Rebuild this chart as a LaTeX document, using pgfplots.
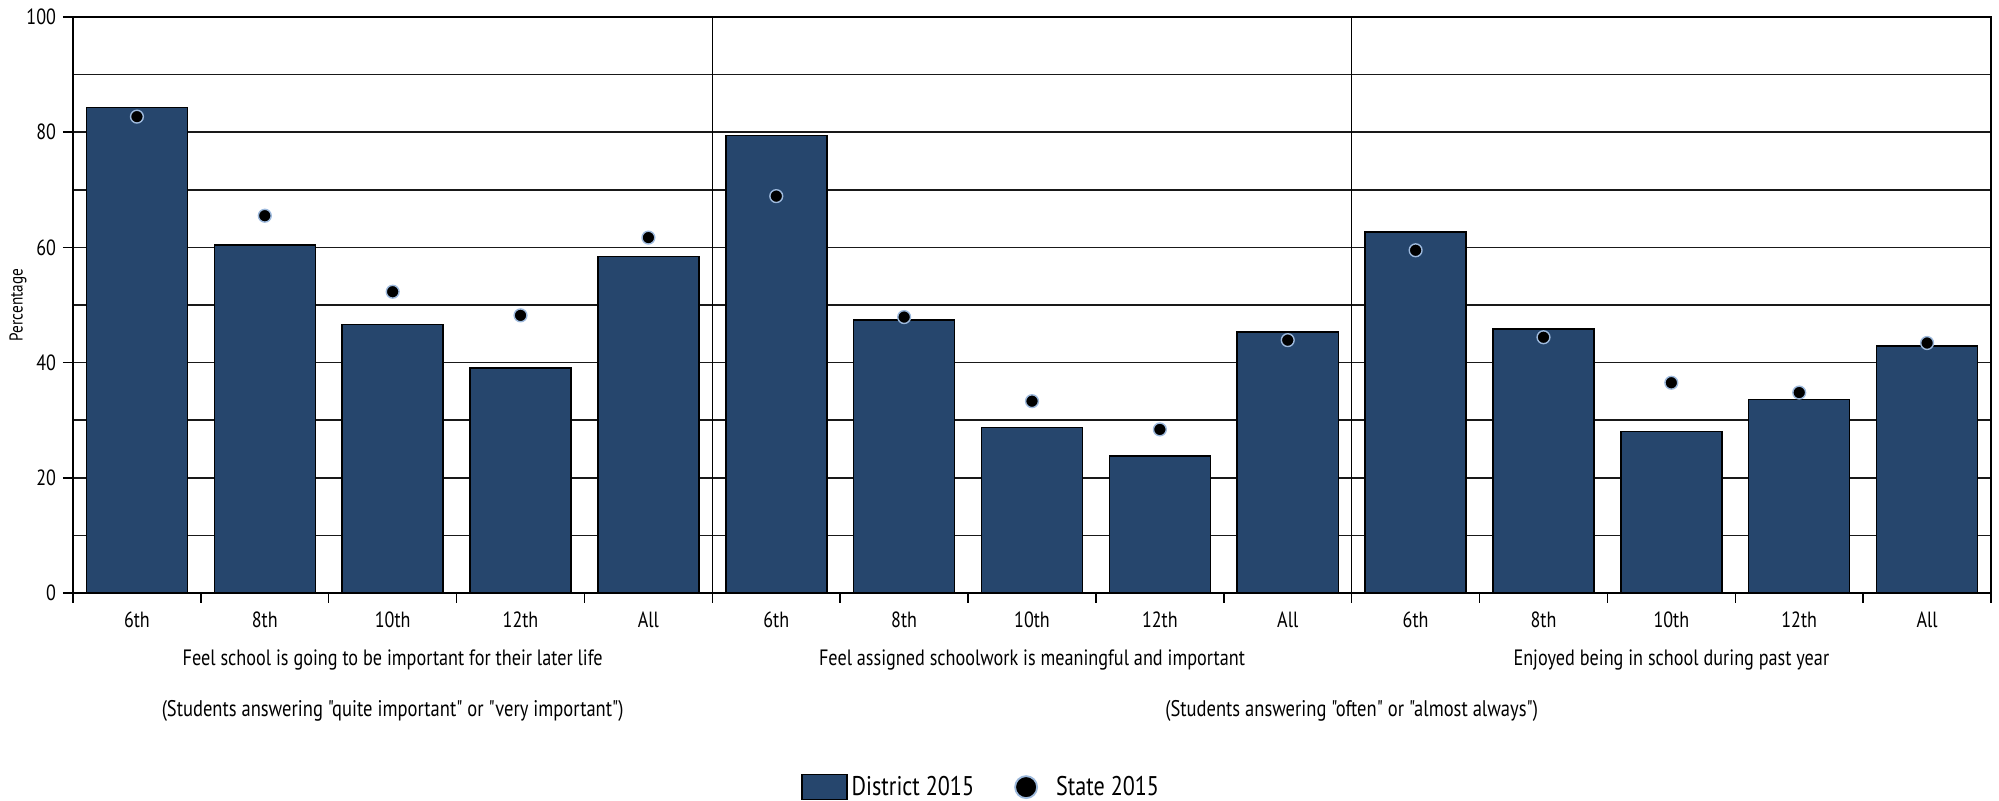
\documentclass[border=0pt]{standalone}
\usepackage{fontspec}
\setmainfont{PT Sans}[FakeStretch=0.82, Ligatures=TeXOff]
\usepackage{pgfplots}
\usepackage{pgfplotstable}
\pgfplotsset{compat=1.18}
\definecolor{barblue}{HTML}{26466D}
\definecolor{dotedge}{HTML}{9DB9DC}

\pgfplotstableread{
x district state
0 84.3 82.7
1 60.4 65.5
2 46.6 52.3
3 39.1 48.2
4 58.4 61.7
5 79.4 68.9
6 47.4 47.9
7 28.7 33.3
8 23.8 28.4
9 45.3 43.9
10 62.7 59.5
11 45.8 44.4
12 28.0 36.5
13 33.6 34.8
14 42.9 43.4
}\datatable

\begin{document}
\begin{tikzpicture}
\begin{axis}[
  scale only axis, width=959pt, height=288pt,
  clip=false,
  xmin=-0.5, xmax=14.5, ymin=0, ymax=100,
  xtick={0,...,14},
  xticklabels={6th,8th,10th,12th,All,6th,8th,10th,12th,All,6th,8th,10th,12th,All},
  minor xtick={-0.5,0.5,...,14.5},
  ytick={0,20,...,100}, minor ytick={10,30,...,90},
  tick align=outside, major tick length=5pt, minor tick length=5pt,
  xtick pos=bottom, ytick pos=left,
  major x tick style={draw=none},
  minor y tick style={draw=none},
  ymajorgrids, yminorgrids,
  major grid style={black!90, line width=0.75pt},
  minor grid style={black!90, line width=0.75pt},
  axis line style={black, line width=0.75pt},
  tick style={black, line width=0.75pt},
  extra x ticks={4.5,9.5}, extra x tick labels={},
  extra x tick style={grid=major, major grid style={black, line width=0.75pt}},
  /pgf/number format/assume math mode=true,
  tick label style={font=\fontsize{11}{13}\selectfont},
  xticklabel style={yshift=-1pt},
  ylabel={Percentage},
  ylabel style={at={(axis description cs:-0.0287,0.5)}, anchor=center, font=\fontsize{9.3}{11}\selectfont},
  legend columns=2,
  legend style={at={(0.474,-0.337)}, anchor=center, draw=none,
    font=\fontsize{13.5}{16}\selectfont,
    /tikz/every even column/.append style={column sep=13pt}},
]
\addplot[ybar, bar width=0.79, fill=barblue, draw=black, line width=0.75pt,
  legend image code/.code={\draw[fill=barblue,draw=black,line width=0.75pt] (0pt,-6.25pt) rectangle (22.5pt,6.25pt);}]
  table[x=x,y=district]{\datatable};
\addlegendentry{District 2015}
\addplot[only marks, mark=*, mark size=3.2pt, mark options={fill=black, draw=dotedge, line width=0.7pt},
  legend image code/.code={\path[draw=none,fill=none] (0pt,-5pt) rectangle (24pt,5pt); \draw[fill=black,draw=dotedge,line width=0.9pt] (11pt,0pt) circle (5.5pt);}]
  table[x=x,y=state]{\datatable};
\addlegendentry{State 2015}

\node[font=\fontsize{11.1}{14}\selectfont, yshift=-33.5pt] at (axis cs:2,0) {Feel school is going to be important for their later life};
\node[font=\fontsize{11.1}{14}\selectfont, yshift=-33.5pt] at (axis cs:7,0) {Feel assigned schoolwork is meaningful and important};
\node[font=\fontsize{11.1}{14}\selectfont, yshift=-33.5pt] at (axis cs:12,0) {Enjoyed being in school during past year};
\node[font=\fontsize{11.3}{14}\selectfont, yshift=-59pt] at (axis cs:2,0) {(Students answering "quite important" or "very important")};
\node[font=\fontsize{11.3}{14}\selectfont, yshift=-59pt] at (axis cs:9.5,0) {(Students answering "often" or "almost always")};
\end{axis}
\pgfresetboundingbox
\path ([shift={(-36.5pt,-104pt)}]current axis.south west) rectangle ([shift={(4pt,8.5pt)}]current axis.north east);
\end{tikzpicture}
\end{document}
